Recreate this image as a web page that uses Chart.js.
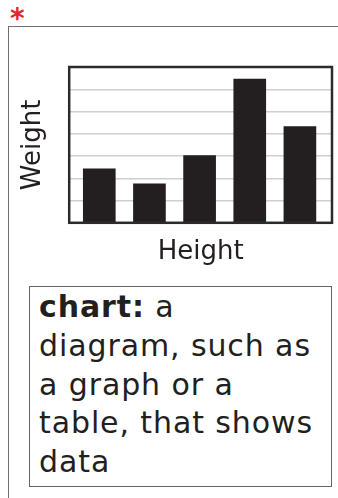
<!DOCTYPE html>
<html>
<head>
<meta charset="utf-8">
<script src="https://cdn.jsdelivr.net/npm/chart.js@4/dist/chart.umd.min.js"></script>
<style>
  html, body { margin: 0; padding: 0; background: #fff; }
  body { width: 338px; height: 498px; position: relative; overflow: hidden; font-family: "DejaVu Sans", sans-serif; }
  #star { position: absolute; left: 10px; top: 5px; color: #e3262d; font: bold 28px "DejaVu Sans", sans-serif; line-height: 28px; }
  #frame { position: absolute; left: 8px; top: 26px; right: -2px; bottom: -2px; border-top: 1.5px solid #6f6f6f; border-left: 1.5px solid #6f6f6f; }
  #chart-wrap { position: absolute; left: 0; top: 0; width: 338px; height: 280px; }
  #defn {
    position: absolute; left: 29px; top: 286px; width: 303px; height: 201px;
    box-sizing: border-box; border: 1px solid #666; padding: 1px 0 0 9px;
    font-size: 30px; line-height: 38.8px; letter-spacing: 0.9px; color: #231f20; white-space: nowrap;
  }
  #defn b { font-weight: bold; }
</style>
</head>
<body>
<div id="star">*</div>
<div id="frame"></div>
<div id="chart-wrap"><canvas id="bars"></canvas></div>
<div id="defn"><b>chart:</b> a<br>diagram, such as<br>a graph or a<br>table, that shows<br>data</div>

<script>
// Bar chart data (no tick labels in the picture, just five unnamed bars)
const positions = [1, 2, 3, 4, 5];
const weights = [2.43, 1.75, 3.02, 6.46, 4.32];
const xTitle = 'Height';
const yTitle = 'Weight';
const yMax = 7;

const barColor = '#231f20';
const titleFont = { family: '"DejaVu Sans", sans-serif', size: 26 };

// draws the dark box round the plot area
const framePlugin = {
  id: 'plotFrame',
  afterDatasetsDraw(chart) {
    const a = chart.chartArea;
    const ctx = chart.ctx;
    ctx.save();
    ctx.strokeStyle = '#2b2b2b';
    ctx.lineWidth = 2.5;
    ctx.strokeRect(a.left, a.top, a.right - a.left, a.bottom - a.top);
    ctx.restore();
  }
};

const ctx = document.getElementById('bars').getContext('2d');
new Chart(ctx, {
  type: 'bar',
  data: {
    datasets: [{
      data: positions.map((p, i) => ({ x: p, y: weights[i] })),
      backgroundColor: barColor,
      borderWidth: 0,
      barThickness: 32
    }]
  },
  options: {
    responsive: true,
    maintainAspectRatio: false,
    animation: false,
    layout: { padding: { left: 14, right: 6, top: 67, bottom: 12 } },
    plugins: {
      legend: { display: false },
      tooltip: { enabled: false }
    },
    scales: {
      x: {
        type: 'linear',
        offset: false,
        min: 0.4,
        max: 5.64,
        ticks: { display: false },
        grid: { display: false, drawTicks: false, offset: false },
        border: { display: false },
        title: { display: true, text: xTitle, color: '#231f20', font: titleFont, padding: { top: 14, bottom: 0 } }
      },
      y: {
        min: 0,
        max: yMax,
        ticks: { display: false, stepSize: 1 },
        grid: { color: '#cfcfcf', lineWidth: 1.5, drawTicks: false },
        border: { display: false },
        title: { display: true, text: yTitle, color: '#231f20', font: titleFont, padding: { top: 4, bottom: 20 } }
      }
    }
  },
  plugins: [framePlugin]
});
</script>
</body>
</html>
